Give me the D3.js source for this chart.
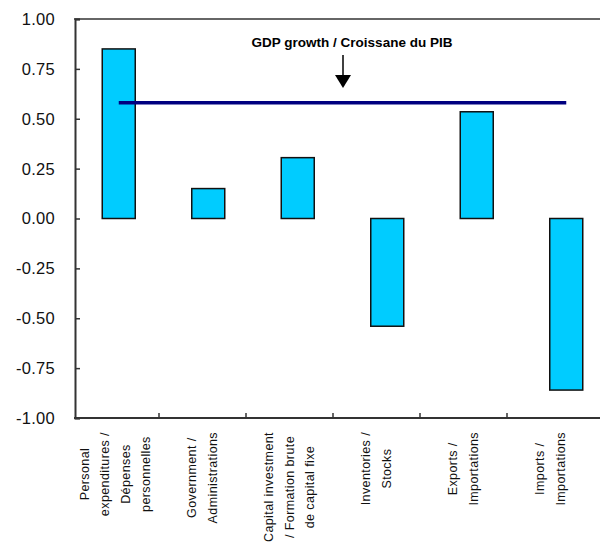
<!DOCTYPE html>
<html>
<head>
<meta charset="utf-8">
<script src="https://cdn.jsdelivr.net/npm/d3@7"></script>
<style>
  body { margin: 0; background: #fff; }
  text { font-family: "Liberation Sans", Arial, sans-serif; }
</style>
</head>
<body>
<div id="c1"></div>
<script>
// data
var categories = ["personal", "government", "capital", "inventories", "exports", "imports"];
var categoryLabels = [
  ["Personal", "expenditures /", "Dépenses", "personnelles"],
  ["Government /", "Administrations"],
  ["Capital investment", "/ Formation brute", "de capital fixe"],
  ["Inventories /", "Stocks"],
  ["Exports /", "Importations"],
  ["Imports /", "Importations"]
];
var contributions = [0.85, 0.15, 0.305, -0.54, 0.535, -0.86];
var gdpGrowth = [0.58];
var yTicks = [1, 0.75, 0.5, 0.25, 0, -0.25, -0.5, -0.75, -1];
var gdpTitle = "GDP growth / Croissane du PIB";

var width = 600, height = 550;

var svg = d3.select("#c1")
  .append("svg")
  .attr("width", width)
  .attr("height", height);

// scales
var y = d3.scaleLinear().domain([-1, 1]).range([418, 19]);
// axis categories (ticks / labels)
var xAxisScale = d3.scaleBand().domain(categories).range([72, 594]);
// bars sit a touch wider apart than the axis ticks in the original
var xBar = d3.scaleBand().domain(categories).range([74, 611]);
var barW = 33;

// frame: top and bottom lines
svg.append("line")
  .attr("x1", 74).attr("x2", 600)
  .attr("y1", y(1)).attr("y2", y(1))
  .attr("stroke", "#333").attr("stroke-width", 1.5);
svg.append("line")
  .attr("x1", 74).attr("x2", 600)
  .attr("y1", y(-1)).attr("y2", y(-1))
  .attr("stroke", "#333").attr("stroke-width", 2);

// y axis
var yAxis = svg.append("g")
  .attr("transform", "translate(75,0)")
  .call(d3.axisRight(y).tickValues(yTicks).tickSize(5).tickFormat(""));
yAxis.select(".domain").attr("stroke", "#333").attr("stroke-width", 2);
yAxis.selectAll(".tick line").attr("stroke", "#333").attr("stroke-width", 1.5);

svg.append("g")
  .selectAll("text")
  .data(yTicks)
  .join("text")
  .attr("x", 55)
  .attr("y", d => y(d))
  .attr("dy", "0.36em")
  .attr("text-anchor", "end")
  .style("font-size", "16.5px")
  .style("letter-spacing", "0.3px")
  .attr("fill", "#111")
  .text(d => d.toFixed(2));

// x ticks on band boundaries
svg.append("g")
  .selectAll("line")
  .data(categories.slice(1))
  .join("line")
  .attr("x1", d => xAxisScale(d)).attr("x2", d => xAxisScale(d))
  .attr("y1", y(-1)).attr("y2", y(-1) - 5)
  .attr("stroke", "#333").attr("stroke-width", 1.5);

// bars
svg.append("g")
  .selectAll("rect")
  .data(contributions)
  .join("rect")
  .attr("x", (d, i) => xBar(categories[i]) + xBar.bandwidth() / 2 - barW / 2)
  .attr("y", d => y(Math.max(0, d)))
  .attr("width", barW)
  .attr("height", d => Math.abs(y(d) - y(0)))
  .attr("fill", "#00CCFF")
  .attr("stroke", "#111")
  .attr("stroke-width", 1.5);

// GDP growth line across category centres
var first = categories[0], last = categories[categories.length - 1];
svg.append("line")
  .attr("x1", xBar(first) + xBar.bandwidth() / 2)
  .attr("x2", xBar(last) + xBar.bandwidth() / 2)
  .attr("y1", y(gdpGrowth[0])).attr("y2", y(gdpGrowth[0]))
  .attr("stroke", "#000080")
  .attr("stroke-width", 3.5);

// annotation
svg.append("text")
  .attr("x", 352)
  .attr("y", 47)
  .attr("text-anchor", "middle")
  .style("font-size", "13.5px")
  .style("font-weight", "bold")
  .attr("fill", "#000")
  .text(gdpTitle);

svg.append("line")
  .attr("x1", 343).attr("x2", 343)
  .attr("y1", 55).attr("y2", 77)
  .attr("stroke", "#000").attr("stroke-width", 1.5);
svg.append("path")
  .attr("d", "M335,75 L351,75 L343,88 Z")
  .attr("fill", "#000");

// category labels, rotated, block top aligned near the axis
var labelTop = 432, lineGap = 20.5;
categoryLabels.forEach(function(lines, i) {
  var cx = xAxisScale(categories[i]) + xAxisScale.bandwidth() / 2;
  var g = svg.append("g");
  var texts = g.selectAll("text")
    .data(lines)
    .join("text")
    .attr("text-anchor", "middle")
    .style("font-size", "12.5px")
    .style("letter-spacing", "0.4px")
    .attr("fill", "#111")
    .text(d => d);
  var maxLen = d3.max(texts.nodes(), n => n.getComputedTextLength());
  var cy = labelTop + maxLen / 2;
  var n = lines.length;
  texts.attr("transform", function(d, j) {
    var off = (j - (n - 1) / 2) * lineGap;
    return "translate(" + (cx + off + 4) + "," + cy + ") rotate(-90)";
  });
});
</script>
</body>
</html>
